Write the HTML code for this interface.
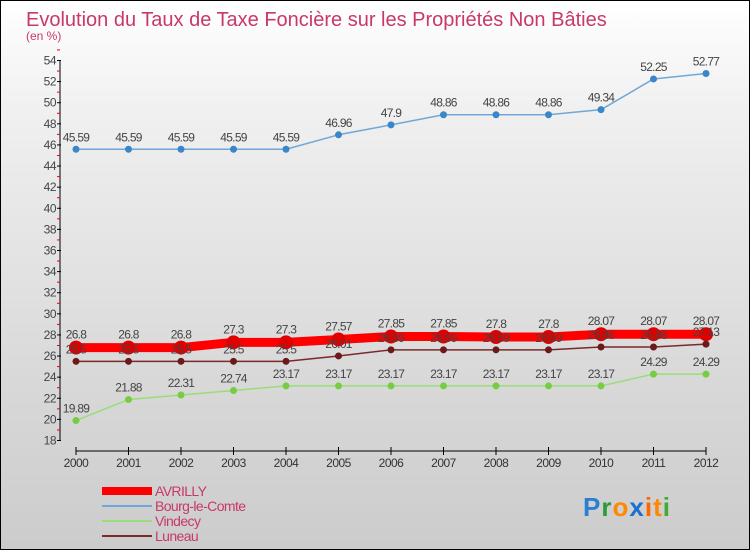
<!DOCTYPE html>
<html><head><meta charset="utf-8"><style>
body{margin:0;width:750px;height:550px;overflow:hidden;font-family:"Liberation Sans",sans-serif}
#frame{position:absolute;left:0;top:0;width:748px;height:548px;border:1px solid #000;background:linear-gradient(#ffffff,#f0f0f0 20%,#d8d8d8 70%,#cccccc)}
</style></head><body>
<div id="frame">
<svg id="svg" width="750" height="550" style="position:absolute;left:-1px;top:-1px"></svg>
</div>
<script>
const years=[2000,2001,2002,2003,2004,2005,2006,2007,2008,2009,2010,2011,2012];
const avrilly=[26.8,26.8,26.8,27.3,27.3,27.57,27.85,27.85,27.8,27.8,28.07,28.07,28.07];
const bourg=[45.59,45.59,45.59,45.59,45.59,46.96,47.9,48.86,48.86,48.86,49.34,52.25,52.77];
const vindecy=[19.89,21.88,22.31,22.74,23.17,23.17,23.17,23.17,23.17,23.17,23.17,24.29,24.29];
const luneau=[25.5,25.5,25.5,25.5,25.5,26.01,26.59,26.59,26.59,26.59,26.86,26.86,27.13];
const yTicks=[18,20,22,24,26,28,30,32,34,36,38,40,42,44,46,48,50,52,54];
const seriesNames=["AVRILLY","Bourg-le-Comte","Vindecy","Luneau"];
const NS="http://www.w3.org/2000/svg";
const svg=document.getElementById('svg');
const X=i=>76+i*52.5;
const Y=v=>440.5-(v-18)*10.556;
function el(t,a,txt){const e=document.createElementNS(NS,t);for(const k in a)e.setAttribute(k,a[k]);if(txt!==undefined)e.textContent=txt;svg.appendChild(e);return e;}
let t=el('text',{x:26,y:26,'font-size':20,fill:'#c8386a'},'Evolution du Taux de Taxe Foncière sur les Propriétés Non Bâties');

t=el('text',{x:26,y:40,'font-size':12,fill:'#c8386a'},'(en %)');

let a=el('line',{x1:60,y1:60,x2:60,y2:441,stroke:'#000'});
a=el('line',{x1:76,y1:451,x2:706,y2:451,stroke:'#000'});
yTicks.forEach(v=>{const y=Y(v);
 el('line',{x1:57,y1:y,x2:61,y2:y,stroke:'#000'});
 el('line',{x1:57,y1:Y(v+1),x2:60,y2:Y(v+1),stroke:'#e00'});
 const l=el('text',{x:56,y:y+4,'font-size':12,fill:'#444','text-anchor':'end','letter-spacing':'-0.5'},v);
 });
years.forEach((yr,i)=>{el('line',{x1:X(i),y1:447,x2:X(i),y2:455,stroke:'#000'});
 const l=el('text',{x:X(i),y:467,'font-size':12,fill:'#333','text-anchor':'middle','letter-spacing':'-0.5'},yr);
 });
function series(vals,color,w,r,dot,name,lblDy){
 const p=el('polyline',{points:vals.map((v,i)=>X(i)+','+Y(v)).join(' '),fill:'none',stroke:color,'stroke-width':w,'stroke-linejoin':'round'});
 
 vals.forEach((v,i)=>{const c=el('circle',{cx:X(i),cy:Y(v),r:r,fill:dot});
  });
 vals.forEach((v,i)=>{const l=el('text',{x:X(i),y:Y(v)+lblDy,'font-size':12,fill:'#444','text-anchor':'middle','letter-spacing':'-0.7'},v);
  });
}
series(bourg,'#6fa8d8',1.5,3.5,'#3a86c8','bourg-le-comte',-8);
series(vindecy,'#99dd77',1.5,3.5,'#77cc44','vindecy',-8);
series(avrilly,'#ff0000',9,7,'#e00000','avrilly',-9);
series(luneau,'#7a2a2a',1.5,3.5,'#6a1a1a','luneau',-8);
const leg=[['#ff0000',8],['#6fa8d8',2],['#99dd77',2],['#7a2a2a',2]];
seriesNames.forEach((n,i)=>{const y=491+i*15;
 const l=el('line',{x1:102,y1:y,x2:152,y2:y,stroke:leg[i][0],'stroke-width':leg[i][1]});
 
 const tx=el('text',{x:155,y:y+5,'font-size':14,fill:'#c8386a','letter-spacing':'-0.6'},n);
 });
const lg=el('text',{x:583,y:516,'font-size':26,'font-weight':'bold','letter-spacing':'1'});

[['P','#2a7fd0'],['r','#2a9a3a'],['o','#ff8800'],['x','#1a70d0'],['i','#ff6600'],['t','#ff8800'],['i','#44aa33']].forEach(([c,f])=>{const s=document.createElementNS(NS,'tspan');s.setAttribute('fill',f);s.textContent=c;lg.appendChild(s);});
</script>
</body></html>
